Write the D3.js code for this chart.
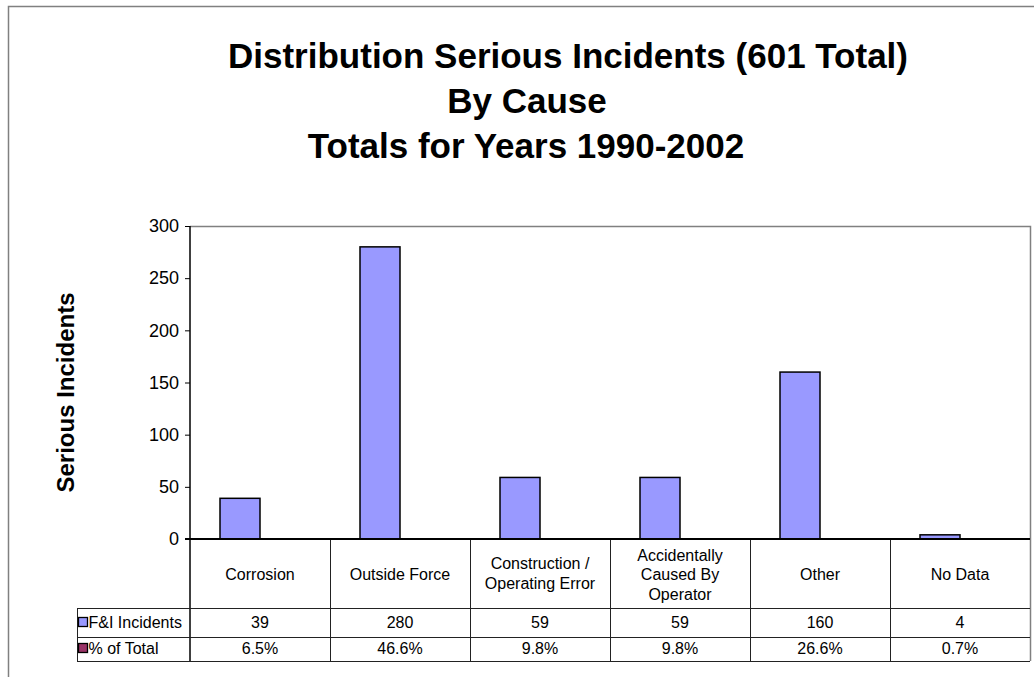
<!DOCTYPE html>
<html>
<head>
<meta charset="utf-8">
<script src="https://cdn.jsdelivr.net/npm/d3@7"></script>
<style>
  html, body { margin: 0; padding: 0; background: #fff; }
  svg { display: block; font-family: "Liberation Sans", Arial, sans-serif; }
</style>
</head>
<body>
<svg id="chart" width="1034" height="677"></svg>
<script>
// Serious incidents by cause, 1990-2002
const categories = [
  ["Corrosion"],
  ["Outside Force"],
  ["Construction /", "Operating Error"],
  ["Accidentally", "Caused By", "Operator"],
  ["Other"],
  ["No Data"]
];
const incidents = [39, 280, 59, 59, 160, 4];
const pctOfTotal = [6.5, 46.6, 9.8, 9.8, 26.6, 0.7];
const seriesNames = ["F&I Incidents", "% of Total"];
const seriesColors = ["#9999FF", "#993366"];
const yTicks = [0, 50, 100, 150, 200, 250, 300];
const titleLines = [
  "Distribution Serious Incidents (601 Total)",
  "By Cause",
  "Totals for Years 1990-2002"
];
const yTitle = "Serious Incidents";

(function draw() {
  const svg = d3.select("#chart");

  // frame around the whole chart
  svg.append("path")
    .attr("d", "M8.5,700 L8.5,6.5 L1040,6.5")
    .attr("fill", "none").attr("stroke", "#808080").attr("stroke-width", 1.5);

  // titles
  const titleX = [568, 527, 526];
  svg.append("g").selectAll("text").data(titleLines).join("text")
    .attr("x", (d, i) => titleX[i])
    .attr("y", (d, i) => 68 + i * 45)
    .attr("text-anchor", "middle")
    .attr("font-weight", "bold")
    .attr("font-size", 35)
    .text(d => d);

  const plotL = 190, plotR = 1030, plotT = 226, base = 539;
  const rowCat = 608, rowInc = 637, rowPct = 661, tableLeft = 77;

  const keys = categories.map((c, i) => "c" + i);
  const x = d3.scaleBand().domain(keys).range([plotL, plotR]).paddingInner(0).paddingOuter(0);
  const bw = x.bandwidth();
  const barW = bw / 3.5;
  const xs = d3.scaleBand().domain([0, 1]).range([0.75 * barW, bw - 0.75 * barW]);
  const y = d3.scaleLinear().domain([0, 300]).range([base, plotT]);

  // plot area border (top and right)
  svg.append("path")
    .attr("d", `M${plotL},${plotT + 0.5} L${plotR + 0.5},${plotT + 0.5} L${plotR + 0.5},${rowPct}`)
    .attr("fill", "none").attr("stroke", "#808080").attr("stroke-width", 1.5);

  // bars: incidents (counts) and percent of total (as a fraction, so it stays flat)
  const barData = [];
  incidents.forEach((v, i) => barData.push({ k: keys[i], s: 0, v: v }));
  pctOfTotal.forEach((v, i) => barData.push({ k: keys[i], s: 1, v: v / 100 }));
  svg.append("g").selectAll("rect").data(barData.filter(d => d.s === 0)).join("rect")
    .attr("x", d => x(d.k) + xs(d.s))
    .attr("y", d => y(d.v))
    .attr("width", xs.bandwidth())
    .attr("height", d => base - y(d.v))
    .attr("fill", d => seriesColors[d.s])
    .attr("stroke", "#000")
    .attr("stroke-width", 1.5);
  svg.append("g").selectAll("rect").data(barData.filter(d => d.s === 1)).join("rect")
    .attr("x", d => x(d.k) + xs(d.s))
    .attr("y", d => y(d.v))
    .attr("width", xs.bandwidth())
    .attr("height", d => base - y(d.v))
    .attr("fill", d => seriesColors[d.s]);

  // y axis
  const yAxis = d3.axisLeft(y).tickValues(yTicks).tickSize(5).tickPadding(6);
  const gy = svg.append("g").attr("transform", `translate(${plotL},0)`).call(yAxis);
  gy.select(".domain").remove();
  gy.selectAll(".tick line").attr("stroke", "#000");
  gy.selectAll(".tick text")
    .attr("font-size", 18)
    .attr("font-family", "'Liberation Sans', Arial, sans-serif")
    .attr("fill", "#000");
  svg.append("line")
    .attr("x1", plotL).attr("x2", plotL).attr("y1", plotT).attr("y2", rowPct)
    .attr("stroke", "#000").attr("stroke-width", 1.5);

  // y axis title
  svg.append("text")
    .attr("transform", `translate(74,${(plotT + base) / 2 + 10}) rotate(-90)`)
    .attr("text-anchor", "middle")
    .attr("font-weight", "bold")
    .attr("font-size", 24)
    .text(yTitle);

  // data table grid
  const grid = svg.append("g").attr("stroke", "#222").attr("stroke-width", 1);
  grid.selectAll("line.v").data(keys.slice(1)).join("line")
    .attr("x1", d => Math.round(x(d)) + 0.5).attr("x2", d => Math.round(x(d)) + 0.5)
    .attr("y1", base).attr("y2", rowPct);
  [rowCat, rowInc, rowPct].forEach(yy => {
    grid.append("line")
      .attr("x1", tableLeft).attr("x2", plotR)
      .attr("y1", yy + 0.5).attr("y2", yy + 0.5);
  });
  grid.append("line")
    .attr("x1", tableLeft + 0.5).attr("x2", tableLeft + 0.5)
    .attr("y1", rowCat).attr("y2", rowPct);

  // baseline
  svg.append("line")
    .attr("x1", plotL - 5).attr("x2", plotR)
    .attr("y1", base).attr("y2", base)
    .attr("stroke", "#000").attr("stroke-width", 2);

  // category labels
  const catG = svg.append("g").attr("font-size", 16).attr("text-anchor", "middle");
  categories.forEach((lines, i) => {
    const cx = x(keys[i]) + bw / 2;
    const lh = 19.5;
    const first = 580 - (lines.length - 1) * lh / 2 + (lines.length === 2 ? -1 : 0);
    lines.forEach((ln, j) => {
      catG.append("text").attr("x", cx).attr("y", first + j * lh).text(ln);
    });
  });

  // table values
  const valG = svg.append("g").attr("font-size", 16).attr("text-anchor", "middle");
  valG.selectAll("text.inc").data(incidents).join("text")
    .attr("class", "inc")
    .attr("x", (d, i) => x(keys[i]) + bw / 2)
    .attr("y", 628)
    .text(d => d);
  valG.selectAll("text.pct").data(pctOfTotal).join("text")
    .attr("class", "pct")
    .attr("x", (d, i) => x(keys[i]) + bw / 2)
    .attr("y", 654)
    .text(d => d.toFixed(1) + "%");

  // legend keys in the table
  const legY = [628, 654];
  seriesNames.forEach((name, i) => {
    svg.append("rect")
      .attr("x", 78.5).attr("y", legY[i] - 10.5)
      .attr("width", 9).attr("height", 9)
      .attr("fill", seriesColors[i]).attr("stroke", "#000").attr("stroke-width", 1.3);
    svg.append("text")
      .attr("x", 88.5).attr("y", legY[i])
      .attr("font-size", 16)
      .text(name);
  });
})();
</script>
</body>
</html>
